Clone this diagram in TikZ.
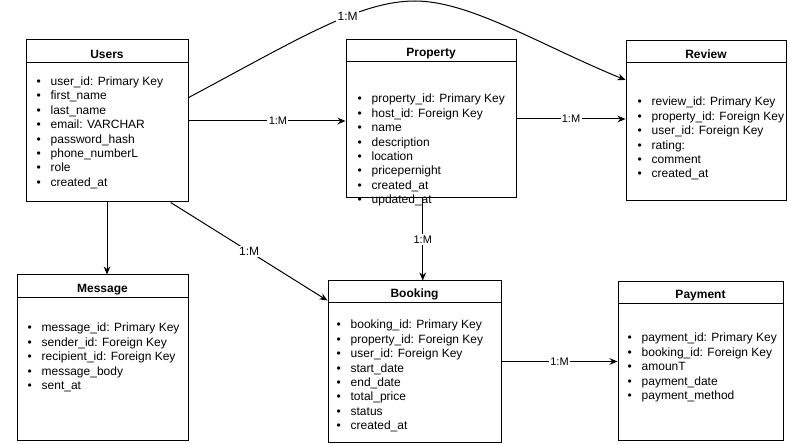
\documentclass[tikz,border=0pt]{standalone}
\usepackage{fontspec}
\setmainfont{Liberation Sans}
\usetikzlibrary{arrows.meta,fit,calc}

\newcommand{\fielditem}[1]{\makebox[10.5pt][l]{\textbullet}#1}

\begin{document}
\begin{tikzpicture}[x=0.75pt,y=-0.75pt,
    box/.style={draw,line width=0.75pt,inner sep=0pt},
    head/.style={box,label={[inner sep=0pt,yshift=-2pt,font=\fontsize{9}{11}\selectfont\bfseries]center:#1}},
    fields/.style={anchor=north west,inner sep=0pt,align=left,font=\fontsize{9}{10.8}\selectfont},
    rel/.style={line width=0.75pt,-{Stealth[length=6pt,width=5pt]}},
    card/.style={fill=white,inner sep=1pt,font=\fontsize{8.25}{10}\selectfont}]

    \useasboundingbox (0,0) rectangle (789,445);

    % Tables of the top row
    \node[box,fit={(26,40) (188,202)}] (users) {};
    \node[head=Users,fit={(26,40) (188,63)}] (usersh) {};
    \node[fields] (usersl) at (36.4,76.5) {\fielditem{user\_id: Primary Key}\\\fielditem{first\_name}\\\fielditem{last\_name}\\\fielditem{email: VARCHAR}\\\fielditem{password\_hash}\\\fielditem{phone\_numberL}\\\fielditem{role}\\\fielditem{created\_at}};

    \node[box,fit={(346,40) (516,198)}] (property) {};
    \node[head=Property,fit={(346,40) (516,62)}] (propertyh) {};
    \node[fields] (propertyl) at (357.4,94) {\fielditem{property\_id: Primary Key}\\\fielditem{host\_id: Foreign Key}\\\fielditem{name}\\\fielditem{description}\\\fielditem{location}\\\fielditem{pricepernight}\\\fielditem{created\_at}\\\fielditem{updated\_at}};

    \node[box,fit={(626,41) (786,201)}] (review) {};
    \node[head=Review,fit={(626,41) (786,63)}] (reviewh) {};
    \node[fields] (reviewl) at (637.4,97) {\fielditem{review\_id: Primary Key}\\\fielditem{property\_id: Foreign Key}\\\fielditem{user\_id: Foreign Key}\\\fielditem{rating:}\\\fielditem{comment}\\\fielditem{created\_at}};

    % Tables of the bottom row
    \node[box,fit={(17,275) (188,440)}] (message) {};
    \node[head=Message,fit={(17,275) (188,298)}] (messageh) {};
    \node[fields] (messagel) at (27.4,323) {\fielditem{message\_id: Primary Key}\\\fielditem{sender\_id: Foreign Key}\\\fielditem{recipient\_id: Foreign Key}\\\fielditem{message\_body}\\\fielditem{sent\_at}};

    \node[box,fit={(328,281) (501,442)}] (booking) {};
    \node[head=Booking,fit={(328,281) (501,303)}] (bookingh) {};
    \node[fields] (bookingl) at (336.4,320) {\fielditem{booking\_id: Primary Key}\\\fielditem{property\_id: Foreign Key}\\\fielditem{user\_id: Foreign Key}\\\fielditem{start\_date}\\\fielditem{end\_date}\\\fielditem{total\_price}\\\fielditem{status}\\\fielditem{created\_at}};

    \node[box,fit={(618,282) (783,440)}] (payment) {};
    \node[head=Payment,fit={(618,282) (783,304)}] (paymenth) {};
    \node[fields] (paymentl) at (627.4,333) {\fielditem{payment\_id: Primary Key}\\\fielditem{booking\_id: Foreign Key}\\\fielditem{amounT}\\\fielditem{payment\_date}\\\fielditem{payment\_method}};

    % Relations
    \draw[rel] (users.east) -- node[card,pos=0.57] {1:M} (users.east -| property.west);
    \draw[rel] (property.east) -- node[card] {1:M} (property.east -| review.west);

    \coordinate (arc) at (415,1);
    \draw[rel] (users.16) .. controls (300,38) and (360,1) .. (arc) node[card,pos=0.62,font=\fontsize{9}{11}\selectfont] {1:M}
        .. controls (470,1) and (540,45) .. (review.153);

    \draw[rel] (users.south) -- (users.south |- message.north);
    \draw[rel] (users.-52) -- node[card,font=\fontsize{9}{11}\selectfont] {1:M} (booking.145);

    \coordinate (pb) at ($(property.south)!0.5!(booking.north)$);
    \draw[rel] (pb |- property.south) -- node[card] {1:M} (pb |- booking.north);

    \draw[rel] (booking.east) -- node[card] {1:M} (booking.east -| payment.west);
\end{tikzpicture}
\end{document}
